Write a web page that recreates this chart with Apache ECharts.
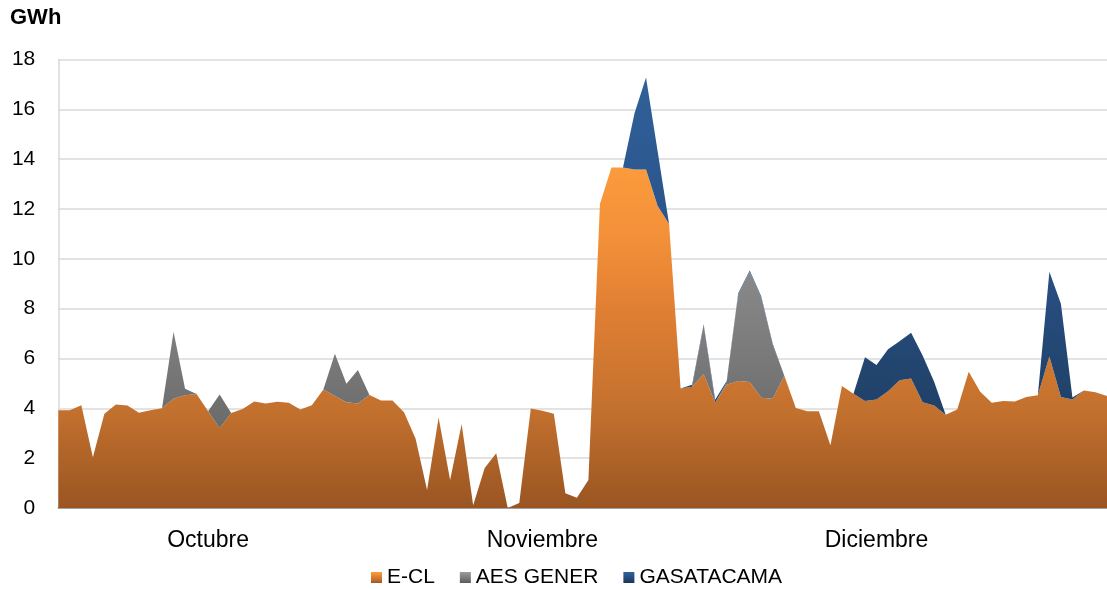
<!DOCTYPE html>
<html>
<head>
<meta charset="utf-8">
<style>
  html, body { margin: 0; padding: 0; background: #ffffff; overflow: hidden; }
  #chart { width: 1107px; height: 590px; }
</style>
<script src="https://cdn.jsdelivr.net/npm/echarts@6/dist/echarts.min.js"></script>
</head>
<body>
<div id="chart"></div>
<script>
// Daily generation (GWh), October to December
const seriesNames = ['E-CL', 'AES GENER', 'GASATACAMA'];

const ecl = [
  3.92, 3.92, 4.12, 2.04, 3.78, 4.15, 4.11, 3.82, 3.92, 4.00,
  4.38, 4.53, 4.58, 3.88, 3.20, 3.81, 3.97, 4.27, 4.19, 4.26,
  4.22, 3.95, 4.12, 4.76, 4.49, 4.24, 4.19, 4.54, 4.31, 4.31,
  3.84, 2.79, 0.72, 3.63, 1.12, 3.37, 0.11, 1.61, 2.20, 0.00,
  0.20, 3.99, 3.90, 3.78, 0.59, 0.41, 1.12, 12.20, 13.67, 13.67,
  13.59, 13.59, 12.13, 11.40, 4.80, 4.87, 5.37, 4.22, 4.95, 5.10,
  5.06, 4.42, 4.38, 5.31, 4.01, 3.88, 3.88, 2.52, 4.90, 4.59,
  4.29, 4.35, 4.69, 5.13, 5.20, 4.24, 4.11, 3.74, 3.95, 5.47,
  4.67, 4.22, 4.29, 4.27, 4.45, 4.53, 6.08, 4.45, 4.35, 4.72,
  4.65, 4.49
];

const aesGener = [
  0, 0, 0, 0, 0, 0, 0, 0, 0, 0,
  2.69, 0.26, 0, 0, 1.36, 0, 0, 0, 0, 0,
  0, 0, 0, 0, 1.70, 0.75, 1.35, 0, 0, 0,
  0, 0, 0, 0, 0, 0, 0, 0, 0, 0,
  0, 0, 0, 0, 0, 0, 0, 0, 0, 0,
  0, 0, 0, 0, 0, 0, 1.95, 0, 0.10, 3.47,
  4.42, 4.02, 2.15, 0, 0, 0, 0, 0, 0, 0,
  0, 0, 0, 0, 0, 0, 0, 0, 0, 0,
  0, 0, 0, 0, 0, 0, 0, 0, 0, 0,
  0, 0
];

const gasAtacama = [
  0, 0, 0, 0, 0, 0, 0, 0, 0, 0,
  0, 0, 0, 0, 0, 0, 0, 0, 0, 0,
  0, 0, 0, 0, 0, 0, 0, 0, 0, 0,
  0, 0, 0, 0, 0, 0, 0, 0, 0, 0,
  0, 0, 0, 0, 0, 0, 0, 0, 0, 0,
  2.25, 3.69, 2.21, 0, 0, 0.08, 0.05, 0.12, 0.05, 0.05,
  0.05, 0.05, 0.05, 0, 0, 0, 0, 0, 0, 0,
  1.76, 1.39, 1.68, 1.56, 1.83, 1.88, 0.96, 0, 0, 0,
  0, 0, 0, 0, 0, 0, 3.40, 3.75, 0.08, 0,
  0, 0
];

// Month labels and the day index each one sits under
const monthLabels = ['Octubre', 'Noviembre', 'Diciembre'];
const monthLabelIndex = [13, 42, 71];

const yTicks = { min: 0, max: 18, step: 2 };

// One category per day
const days = ecl.map((_, i) => String(i + 1));

const FONT = "'Liberation Sans', Arial, sans-serif";

function grad(stops) {
  return new echarts.graphic.LinearGradient(0, 0, 0, 1,
    stops.map(s => ({ offset: s[0], color: s[1] })));
}

const fills = [
  grad([[0, '#FB9B3C'], [0.2, '#F39039'], [0.42, '#E07F33'], [0.71, '#C3712E'], [1, '#9A5522']]),
  grad([[0, '#9C9C9C'], [0.55, '#7A7A7A'], [1, '#5A5A5A']]),
  grad([[0, '#30619A'], [0.45, '#294F84'], [0.68, '#22456F'], [1, '#1A3656']])
];

const values = [ecl, aesGener, gasAtacama];

const chart = echarts.init(document.getElementById('chart'), null, { renderer: 'canvas' });

chart.setOption({
  animation: false,
  backgroundColor: '#ffffff',
  textStyle: { fontFamily: FONT },
  graphic: [{
    type: 'text',
    left: 10,
    top: 7,
    style: { text: 'GWh', fontFamily: FONT, fontSize: 22, fontWeight: 'bold', fill: '#000' }
  }],
  // the plot runs a few pixels past the right edge of the canvas
  grid: { left: 58.3, top: 59.5, width: 1053, height: 448.5, containLabel: false },
  legend: {
    data: seriesNames,
    left: 366,
    top: 562,
    icon: 'rect',
    itemWidth: 11,
    itemHeight: 11,
    itemGap: 25,
    textStyle: { fontFamily: FONT, fontSize: 21, color: '#000' }
  },
  xAxis: {
    type: 'category',
    data: days,
    boundaryGap: false,
    axisLine: { show: true, lineStyle: { color: '#8C8C8C', width: 1.5 } },
    axisTick: { show: false },
    splitLine: { show: false },
    axisLabel: {
      interval: (idx) => monthLabelIndex.includes(idx),
      formatter: (v, idx) => monthLabels[monthLabelIndex.indexOf(idx)] || '',
      fontFamily: FONT,
      fontSize: 23,
      color: '#000',
      margin: 21
    }
  },
  yAxis: {
    type: 'value',
    min: yTicks.min,
    max: yTicks.max,
    interval: yTicks.step,
    axisLine: { show: true, lineStyle: { color: '#D9D9D9', width: 1.5 } },
    axisTick: { show: false },
    splitLine: { show: true, lineStyle: { color: '#DADADA', width: 1.5 } },
    axisLabel: { fontFamily: FONT, fontSize: 21, color: '#000', margin: 23 }
  },
  series: seriesNames.map((name, k) => ({
    name,
    type: 'line',
    stack: 'total',
    data: values[k],
    symbol: 'none',
    showSymbol: false,
    lineStyle: { width: 0 },
    itemStyle: { color: fills[k] },
    areaStyle: { color: fills[k], opacity: 1 },
    emphasis: { disabled: true },
    z: 2
  }))
});
</script>
</body>
</html>
